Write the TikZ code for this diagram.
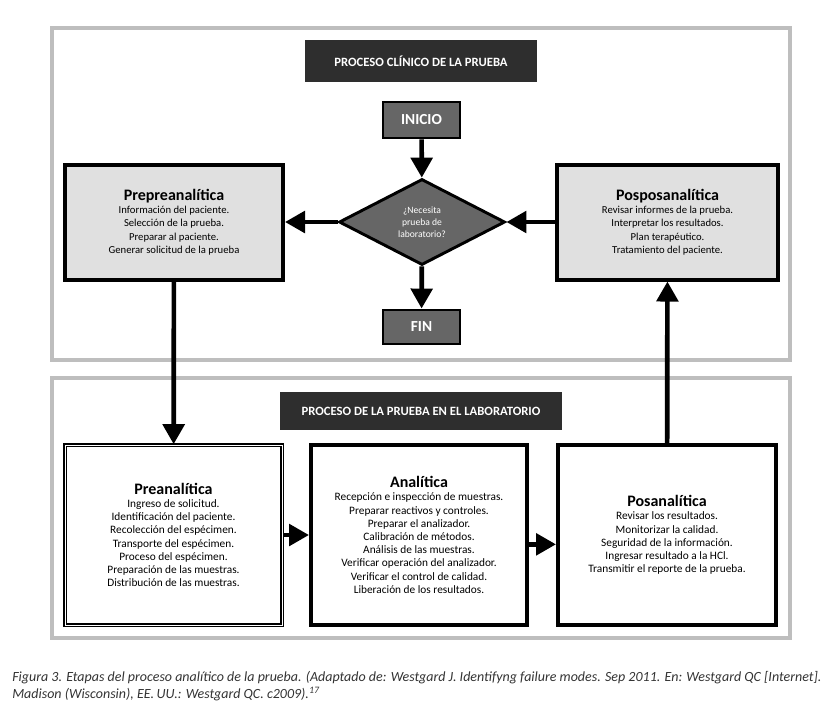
\documentclass[tikz,border=0pt]{standalone}
\usepackage{fontspec}
\setmainfont{Carlito}
\usetikzlibrary{shapes.geometric,arrows.meta}
\definecolor{framegray}{HTML}{BEBEBE}
\definecolor{bandgray}{HTML}{2E2E2E}
\definecolor{stepgray}{HTML}{666666}
\definecolor{boxgray}{HTML}{E0E0E0}
\definecolor{captiongray}{HTML}{333333}
\newcommand{\stagehead}[1]{{\fontsize{12}{15.5}\selectfont\bfseries #1}}

\begin{document}
\begin{tikzpicture}[x=0.75pt,y=-0.75pt,
  frame/.style={draw=framegray,line width=3pt,minimum width=553.5pt},
  band/.style={fill=bandgray,text=white,font=\fontsize{9.5}{11}\selectfont\bfseries},
  terminal/.style={draw,line width=2.2pt,fill=stepgray,text=white,minimum width=57.75pt,font=\fontsize{11.5}{13}\selectfont\bfseries},
  stage/.style={draw,line width=3pt,minimum height=86.25pt,align=center,font=\fontsize{8}{10}\selectfont},
  labstage/.style={draw,line width=3pt,fill=white,minimum height=135pt,align=center,font=\fontsize{8.5}{9.9}\selectfont},
  flow/.style={line width=3.5pt,-{Triangle[length=15pt,width=16pt]}}]
\useasboundingbox (0,0) rectangle (837,708);

\node[frame,minimum height=249pt] (clinic) at (421,194) {};
\node[frame,minimum height=195pt] (lab) at (421,508) {};

\node[band,minimum width=174pt,minimum height=31.5pt] (clinictitle) at (421,61) {PROCESO CLÍNICO DE LA PRUEBA};
\node[band,minimum width=211.5pt,minimum height=28.5pt] (labtitle) at (421,411) {PROCESO DE LA PRUEBA EN EL LABORATORIO};

\node[terminal,minimum height=27pt] (inicio) at (421.5,120) {INICIO};
\node[diamond,draw,line width=2.2pt,fill=stepgray,text=white,inner sep=0pt,
  minimum width=124.5pt,minimum height=64.5pt,align=center,
  font=\fontsize{7.2}{8.4}\selectfont] (decide) at (422,222) {\raisebox{-3pt}{\shortstack{¿Necesita\\prueba de\\laboratorio?}}};
\node[terminal,minimum height=25.5pt] (fin) at (421.5,327) {FIN};

\node[stage,fill=boxgray,minimum width=163.5pt] (prepre) at (174,222)
  {\stagehead{Prepreanalítica}\\Información del paciente.\\Selección de la prueba.\\Preparar al paciente.\\Generar solicitud de la prueba};
\node[stage,fill=boxgray,minimum width=165.75pt] (pospos) at (667.5,222)
  {\stagehead{Posposanalítica}\\Revisar informes de la prueba.\\Interpretar los resultados.\\Plan terapéutico.\\Tratamiento del paciente.};

\node[labstage,line width=1.2pt,double,double distance=0.7pt,minimum width=162.75pt] (pre) at (173.5,535)
  {\stagehead{Preanalítica}\\Ingreso de solicitud.\\Identificación del paciente.\\Recolección del espécimen.\\Transporte del espécimen.\\Proceso del espécimen.\\Preparación de las muestras.\\Distribución de las muestras.};
\node[labstage,minimum width=162pt] (ana) at (419,535)
  {\stagehead{Analítica}\\Recepción e inspección de muestras.\\Preparar reactivos y controles.\\Preparar el analizador.\\Calibración de métodos.\\Análisis de las muestras.\\Verificar operación del analizador.\\Verificar el control de calidad.\\Liberación de los resultados.};
\node[labstage,minimum width=163.5pt] (pos) at (667,535)
  {\stagehead{Posanalítica}\\Revisar los resultados.\\Monitorizar la calidad.\\Seguridad de la información.\\Ingresar resultado a la HCl.\\Transmitir el reporte de la prueba.};

\draw[flow] (inicio) -- (decide);
\draw[flow] (decide) -- (fin);
\draw[flow] (decide) -- (prepre);
\draw[flow] (pospos) -- (decide);
\draw[flow] (prepre) -- (pre);
\draw[flow] (pre) -- (ana);
\draw[flow] ([yshift=-7pt]ana.east) -- ([yshift=-7pt]pos.west);
\draw[flow] (pos) -- (pospos);

\node[anchor=north west,inner sep=0pt,align=left,text=captiongray,
  font=\fontsize{10.5}{12.75}\selectfont\itshape] (caption) at (12,671)
  {Figura 3. Etapas del proceso analítico de la prueba. (Adaptado de: Westgard J. Identifyng failure modes. Sep 2011. En: Westgard QC [Internet].\\
   Madison (Wisconsin), EE.\,UU.: Westgard QC. c2009).\textsuperscript{17}};
\end{tikzpicture}
\end{document}
